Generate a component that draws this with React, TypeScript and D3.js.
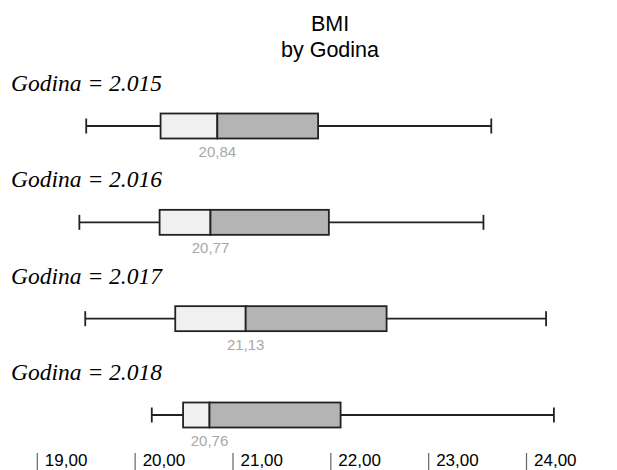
import React from 'react';
import * as d3 from 'd3';

const years = ['2.015', '2.016', '2.017', '2.018'];
const whiskerLow = [19.5, 19.43, 19.49, 20.17];
const q1 = [20.26, 20.25, 20.41, 20.49];
const medians = [20.84, 20.77, 21.13, 20.76];
const q3 = [21.87, 21.98, 22.57, 22.1];
const whiskerHigh = [23.64, 23.56, 24.2, 24.28];
const tickValues = [19, 20, 21, 22, 23, 24];

const width = 617;
const height = 470;

const locale = d3.formatLocale({ decimal: ',', thousands: '.', grouping: [3], currency: ['', ''] });
const fmt = locale.format('.2f');

export default function App() {
    const x = d3.scaleLinear().domain([19, 24]).range([37.3, 526.5]);
    const y = d3.scalePoint<string>().domain(years).range([126, 415]);
    const boxH = 25;
    const capH = 15;
    const sans = '"Liberation Sans", Arial, Helvetica, sans-serif';
    const ink = '#222';

    return (
        <svg width={width} height={height} style={{ position: 'absolute', left: 0, top: 0, background: '#fff' }}>
            <text x={330} y={31} textAnchor="middle" fontFamily={sans} fontSize={21.5} fill="#000">BMI</text>
            <text x={330} y={57} textAnchor="middle" fontFamily={sans} fontSize={21.5} fill="#000">by Godina</text>

            {years.map((yr, i) => {
                const cy = y(yr) as number;
                return (
                    <g key={yr}>
                        <text x={11} y={cy - 35} fontFamily='"Liberation Serif", "Times New Roman", serif'
                            fontStyle="italic" fontSize={23.5} fill="#000">{`Godina = ${yr}`}</text>
                        <line x1={x(whiskerLow[i])} x2={x(q1[i])} y1={cy} y2={cy} stroke={ink} strokeWidth={1.8} />
                        <line x1={x(q3[i])} x2={x(whiskerHigh[i])} y1={cy} y2={cy} stroke={ink} strokeWidth={1.8} />
                        <line x1={x(whiskerLow[i])} x2={x(whiskerLow[i])} y1={cy - capH / 2} y2={cy + capH / 2} stroke={ink} strokeWidth={1.8} />
                        <line x1={x(whiskerHigh[i])} x2={x(whiskerHigh[i])} y1={cy - capH / 2} y2={cy + capH / 2} stroke={ink} strokeWidth={1.8} />
                        <rect x={x(q1[i])} y={cy - boxH / 2} width={x(medians[i]) - x(q1[i])} height={boxH}
                            fill="#f0f0f0" stroke={ink} strokeWidth={1.8} />
                        <rect x={x(medians[i])} y={cy - boxH / 2} width={x(q3[i]) - x(medians[i])} height={boxH}
                            fill="#b4b4b4" stroke={ink} strokeWidth={1.8} />
                        <text x={x(medians[i])} y={cy + 31} textAnchor="middle" fontFamily={sans} fontSize={15}
                            fill="#a8a8a8">{fmt(medians[i])}</text>
                    </g>
                );
            })}

            {tickValues.map(t => (
                <g key={t} transform={`translate(${x(t)},0)`}>
                    <line x1={0} x2={0} y1={453} y2={470} stroke="#666" strokeWidth={1.2} />
                    <text x={7.5} y={466} fontFamily={sans} fontSize={17} fill="#000">{fmt(t)}</text>
                </g>
            ))}
        </svg>
    );
}
